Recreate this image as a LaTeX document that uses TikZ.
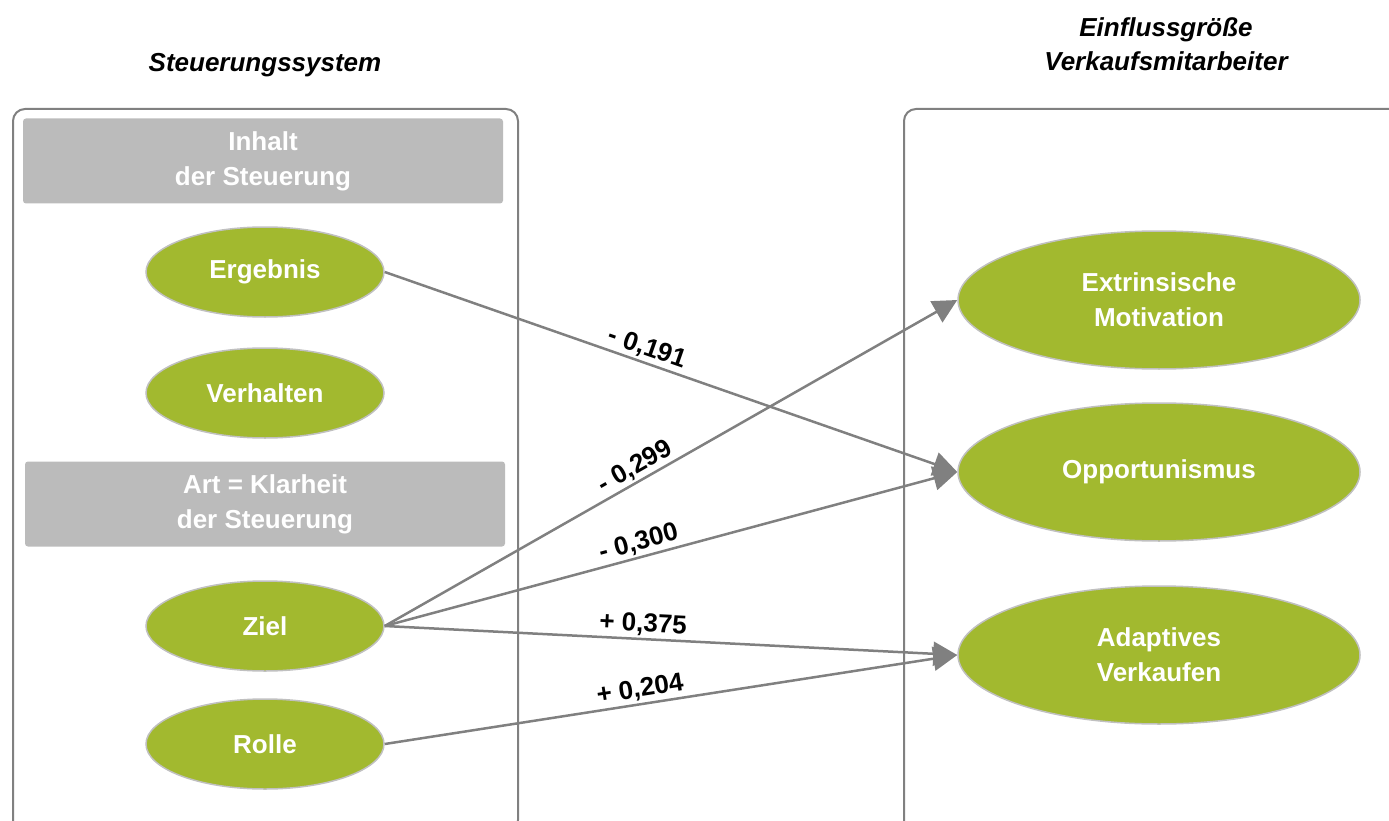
\documentclass[tikz,border=0pt]{standalone}
\usepackage{fontspec}
\setmainfont{Liberation Sans}
\usetikzlibrary{shapes.geometric,arrows.meta}
\definecolor{leaf}{RGB}{162,185,47}
\definecolor{edgegray}{RGB}{128,128,128}
\definecolor{boxgray}{RGB}{187,187,187}
\definecolor{rimgray}{RGB}{192,192,192}
\tikzset{
  x=1pt,y=-1pt,
  every node/.style={font=\fontsize{26}{35}\selectfont\bfseries},
  frame/.style={draw=edgegray,line width=2pt,rounded corners=12},
  headbox/.style={fill=boxgray,rounded corners=3,minimum width=480,minimum height=85,inner sep=0,align=center,text=white},
  bubble/.style={ellipse,fill=leaf,draw=rimgray,line width=1.5pt,minimum width=238,minimum height=90,inner sep=0,align=center,text=white},
  bigbubble/.style={bubble,minimum width=402,minimum height=138},
  link/.style={draw=edgegray,line width=2.5pt,-{Triangle[length=24,width=24]}},
  coef/.style={sloped,above,pos=0.45,inner sep=2,text=black},
  title/.style={font=\fontsize{26}{34}\selectfont\bfseries\itshape,align=center}
}
\begin{document}
\begin{tikzpicture}
\useasboundingbox (0,0) rectangle (1389,821);
\clip (0,0) rectangle (1389,821);
% frames
\draw[frame] (13,109) rectangle (518,832);
\draw[frame] (904,109) rectangle (1402,832);
% titles
\node[title] (t1) at (265,65) {Steuerungssystem};
\node[title] (t2) at (1166,44) {Einflussgröße\\Verkaufsmitarbeiter};
% header boxes
\node[headbox] (h1) at (263,161) {Inhalt\\der Steuerung};
\node[headbox] (h2) at (265,504) {Art = Klarheit\\der Steuerung};
% left ellipses
\node[bubble] (erg) at (265,272) {Ergebnis};
\node[bubble] (ver) at (265,393) {Verhalten};
\node[bubble] (ziel) at (265,626) {Ziel};
\node[bubble] (rol) at (265,744) {Rolle};
% right ellipses
\node[bigbubble] (ext) at (1159,300) {Extrinsische\\Motivation};
\node[bigbubble] (opp) at (1159,472) {Opportunismus};
\node[bigbubble] (ada) at (1159,655) {Adaptives\\Verkaufen};
% connectors
\draw[link] (erg.east) -- node[coef] {- 0,191} (opp.west);
\draw[link] (ziel.east) -- node[coef] {- 0,299} (ext.west);
\draw[link] (ziel.east) -- node[coef] {- 0,300} (opp.west);
\draw[link] (ziel.east) -- node[coef] {+ 0,375} (ada.west);
\draw[link] (rol.east) -- node[coef] {+ 0,204} (ada.west);
\end{tikzpicture}
\end{document}
